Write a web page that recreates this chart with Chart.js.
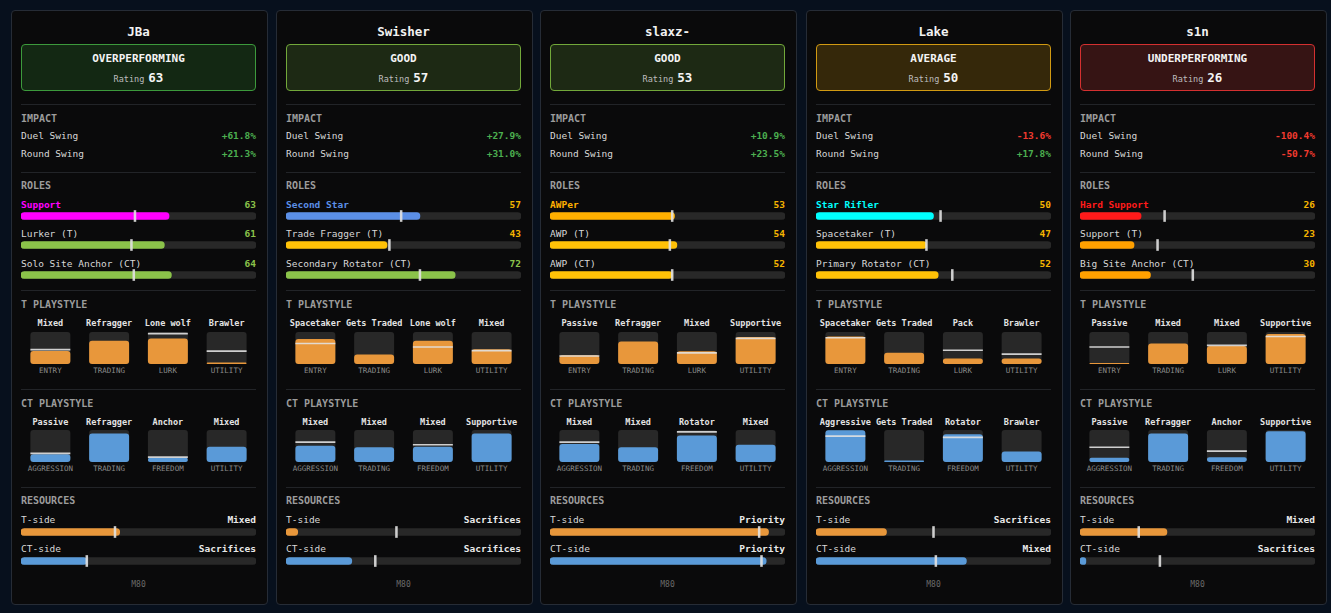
<!DOCTYPE html>
<html>
<head>
<meta charset="utf-8">
<script src="https://cdn.jsdelivr.net/npm/chart.js@4.4.0/dist/chart.umd.min.js"></script>
<style>
body{margin:0;background:#07101d;width:1331px;height:613px;overflow:hidden;font-family:'DejaVu Sans Mono',monospace;color:#d6d6d6}
.card{position:absolute;top:10px;width:257px;height:595px;box-sizing:border-box;background:#0a0a0b;border:1px solid #262c36;border-radius:4px}
.a{position:absolute;left:9px;width:235px;white-space:nowrap}
.name{text-align:center;font-weight:bold;font-size:12.5px;color:#f2f2f2}
.hd{font-weight:bold;font-size:10px;color:#9c9c9c}
.lr{display:flex;justify-content:space-between;font-size:9.5px;color:#d8d8d8}
.lr b{font-weight:bold}
.hr{height:1px;background:#222428}
.status{box-sizing:border-box;border:1px solid;border-radius:4px;text-align:center}
.status .st{font-weight:bold;font-size:11px;color:#f4f4f4;margin-top:7px;height:14px;line-height:14px}
.status .rt{font-size:8.5px;color:#bdbdbd;margin-top:5px;height:14px;line-height:14px}
.status .rt b{font-size:12.5px;color:#f4f4f4;margin-left:4px}
.g4{display:grid;grid-template-columns:repeat(4,1fr);text-align:center}
.pl{font-size:8.5px;font-weight:bold;color:#e4e4e4}
.sub{font-size:7.5px;color:#8a8a8a}
.m80{text-align:center;font-size:8px;color:#6a6a6a}
canvas{position:absolute;left:9px}
</style>
</head>
<body>
<script>
const players = ['JBa', 'Swisher', 'slaxz-', 'Lake', 's1n'];
const statuses = ['OVERPERFORMING', 'GOOD', 'GOOD', 'AVERAGE', 'UNDERPERFORMING'];
const ratings = [63, 57, 53, 50, 26];
const duelSwing = [61.8, 27.9, 10.9, -13.6, -100.4];
const roundSwing = [21.3, 31.0, 23.5, 17.8, -50.7];

const roleNames = [
  ['Support', 'Lurker (T)', 'Solo Site Anchor (CT)'],
  ['Second Star', 'Trade Fragger (T)', 'Secondary Rotator (CT)'],
  ['AWPer', 'AWP (T)', 'AWP (CT)'],
  ['Star Rifler', 'Spacetaker (T)', 'Primary Rotator (CT)'],
  ['Hard Support', 'Support (T)', 'Big Site Anchor (CT)']
];
const roleValues = [[63, 61, 64], [57, 43, 72], [53, 54, 52], [50, 47, 52], [26, 23, 30]];
const roleMarkers = [[48.5, 47, 48], [49, 44, 57], [52, 51, 52], [53, 47, 58], [36, 33, 48]];

const tStyleCats = ['ENTRY', 'TRADING', 'LURK', 'UTILITY'];
const tStyleLabels = [
  ['Mixed', 'Refragger', 'Lone wolf', 'Brawler'],
  ['Spacetaker', 'Gets Traded', 'Lone wolf', 'Mixed'],
  ['Passive', 'Refragger', 'Mixed', 'Supportive'],
  ['Spacetaker', 'Gets Traded', 'Pack', 'Brawler'],
  ['Passive', 'Mixed', 'Mixed', 'Supportive']
];
const tStyleValues = [[41, 73, 80, 5], [78, 30, 73, 46], [27, 70, 40, 84], [86, 35, 17, 17], [3, 64, 56, 94]];
const tStyleMarkers = [[45, null, 95, 40], [64, null, 53, 42], [25, null, 35, 80], [82, null, 43, 31], [53, null, 58, 86]];

const ctStyleCats = ['AGGRESSION', 'TRADING', 'FREEDOM', 'UTILITY'];
const ctStyleLabels = [
  ['Passive', 'Refragger', 'Anchor', 'Mixed'],
  ['Mixed', 'Mixed', 'Mixed', 'Supportive'],
  ['Mixed', 'Mixed', 'Rotator', 'Mixed'],
  ['Aggressive', 'Gets Traded', 'Rotator', 'Brawler'],
  ['Passive', 'Refragger', 'Anchor', 'Supportive']
];
const ctStyleValues = [[24, 89, 13, 48], [51, 46, 48, 89], [56, 46, 83, 54], [99, 5, 87, 33], [13, 89, 15, 96]];
const ctStyleMarkers = [[27, null, 15, null], [62, null, 54, null], [62, null, 94, null], [81, null, 77, null], [46, null, 34, null]];

const tResLabels = ['Mixed', 'Sacrifices', 'Priority', 'Sacrifices', 'Mixed'];
const tResValues = [42, 5, 93, 30, 37];
const tResMarkers = [40, 47, 89, 50, 25];
const ctResLabels = ['Sacrifices', 'Sacrifices', 'Priority', 'Mixed', 'Sacrifices'];
const ctResValues = [28, 28, 92, 64, 2.5];
const ctResMarkers = [28, 38, 90, 51, 34];

const mapName = 'M80';

// styles
const cardLeft = [11, 276, 540, 806, 1070];
const statusStyle = {
  OVERPERFORMING: ['#3c9a3c', '#132813'],
  GOOD: ['#72a83a', '#1d2914'],
  AVERAGE: ['#d19a12', '#35280a'],
  UNDERPERFORMING: ['#d43030', '#361414']
};
const primaryColor = {
  'Support': '#ff00ff', 'Second Star': '#5b8fe6', 'AWPer': '#ffb000',
  'Star Rifler': '#00ffff', 'Hard Support': '#ff1a1a'
};
const levelColor = v => v >= 60 ? '#8bc34a' : v >= 40 ? '#ffc107' : '#ffa000';
const numColor = v => v >= 60 ? '#8bc34a' : '#f5b400';
const TRACK = '#282828', MARK = 'rgba(225,225,225,0.9)';
const ORANGE = '#e8973b', BLUE = '#5a9ad8';

const opts = (axis) => ({
  indexAxis: axis, responsive: false, animation: false, events: [],
  layout: { padding: 0 },
  plugins: { legend: { display: false }, tooltip: { enabled: false } },
  scales: axis === 'y'
    ? { x: { display: false, min: 0, max: 100 }, y: { display: false } }
    : { y: { display: false, min: 0, max: 100 }, x: { display: false } }
});

function div(card, cls, y, h, html) {
  const d = document.createElement('div');
  d.className = 'a ' + cls;
  d.style.top = (y - 11 - h / 2) + 'px';
  d.style.height = h + 'px';
  d.style.lineHeight = h + 'px';
  d.innerHTML = html;
  card.appendChild(d);
  return d;
}

function hbar(card, y, value, marker, color) {
  const c = document.createElement('canvas');
  c.width = 235; c.height = 12;
  c.style.top = (y - 11 - 6) + 'px';
  card.appendChild(c);
  new Chart(c, {
    type: 'bar',
    data: {
      labels: [''],
      datasets: [
        { data: [100], backgroundColor: TRACK, barThickness: 7, borderRadius: 4, borderSkipped: false, grouped: false, order: 3 },
        { data: [value], backgroundColor: color, barThickness: 7, borderRadius: 4, borderSkipped: false, grouped: false, order: 2 },
        { data: [[marker - 0.4, marker + 0.4]], backgroundColor: MARK, barThickness: 11, grouped: false, order: 1 }
      ]
    },
    options: opts('y')
  });
}

function vbars(card, top, cats, values, markers, color) {
  const c = document.createElement('canvas');
  c.width = 235; c.height = 32;
  c.style.top = (top - 11) + 'px';
  card.appendChild(c);
  const common = { categoryPercentage: 1, barPercentage: 0.68, grouped: false };
  new Chart(c, {
    type: 'bar',
    data: {
      labels: cats,
      datasets: [
        { ...common, data: cats.map(() => 100), backgroundColor: TRACK, borderRadius: 3, borderSkipped: false, order: 3 },
        { ...common, data: values, backgroundColor: color, borderRadius: 3, borderSkipped: false, order: 2 },
        { ...common, data: markers.map(m => m == null ? null : [m - 2.6, m + 2.6]), backgroundColor: MARK, order: 1 }
      ]
    },
    options: opts('x')
  });
}

const pct = v => (v >= 0 ? '+' : '') + v.toFixed(1) + '%';
const pctColor = v => v >= 0 ? '#4caf50' : '#f23a2f';

players.forEach((p, i) => {
  const card = document.createElement('div');
  card.className = 'card';
  card.style.left = cardLeft[i] + 'px';
  document.body.appendChild(card);

  div(card, 'name', 32, 16, p);
  const [bc, bg] = statusStyle[statuses[i]];
  const sb = document.createElement('div');
  sb.className = 'a status';
  Object.assign(sb.style, { top: '33px', height: '47px', borderColor: bc, background: bg });
  sb.innerHTML = `<div class="st">${statuses[i]}</div><div class="rt">Rating<b>${ratings[i]}</b></div>`;
  card.appendChild(sb);

  div(card, 'hr', 104, 1, '');
  div(card, 'hd', 119, 12, 'IMPACT');
  div(card, 'lr', 136, 12, `<span>Duel Swing</span><b style="color:${pctColor(duelSwing[i])}">${pct(duelSwing[i])}</b>`);
  div(card, 'lr', 154, 12, `<span>Round Swing</span><b style="color:${pctColor(roundSwing[i])}">${pct(roundSwing[i])}</b>`);

  div(card, 'hr', 172, 1, '');
  div(card, 'hd', 186, 12, 'ROLES');
  [205, 234, 264].forEach((y, r) => {
    const name = roleNames[i][r], v = roleValues[i][r];
    const col = r === 0 ? primaryColor[name] : levelColor(v);
    const lab = r === 0 ? `<b style="color:${col}">${name}</b>` : `<span>${name}</span>`;
    div(card, 'lr', y, 12, `${lab}<b style="color:${numColor(v)}">${v}</b>`);
    hbar(card, y + 11, v, roleMarkers[i][r], col);
  });

  div(card, 'hr', 290, 1, '');
  div(card, 'hd', 305, 12, 'T PLAYSTYLE');
  div(card, 'g4 pl', 323, 12, tStyleLabels[i].map(s => `<span>${s}</span>`).join(''));
  vbars(card, 332, tStyleCats, tStyleValues[i], tStyleMarkers[i], ORANGE);
  div(card, 'g4 sub', 371, 10, tStyleCats.map(s => `<span>${s}</span>`).join(''));

  div(card, 'hr', 389, 1, '');
  div(card, 'hd', 404, 12, 'CT PLAYSTYLE');
  div(card, 'g4 pl', 422, 12, ctStyleLabels[i].map(s => `<span>${s}</span>`).join(''));
  vbars(card, 430, ctStyleCats, ctStyleValues[i], ctStyleMarkers[i], BLUE);
  div(card, 'g4 sub', 469, 10, ctStyleCats.map(s => `<span>${s}</span>`).join(''));

  div(card, 'hr', 487, 1, '');
  div(card, 'hd', 501, 12, 'RESOURCES');
  div(card, 'lr', 520, 12, `<span>T-side</span><b style="color:#e8e8e8">${tResLabels[i]}</b>`);
  hbar(card, 532, tResValues[i], tResMarkers[i], ORANGE);
  div(card, 'lr', 549, 12, `<span>CT-side</span><b style="color:#e8e8e8">${ctResLabels[i]}</b>`);
  hbar(card, 561, ctResValues[i], ctResMarkers[i], BLUE);

  div(card, 'm80', 585, 10, mapName);
});
</script>
</body>
</html>
